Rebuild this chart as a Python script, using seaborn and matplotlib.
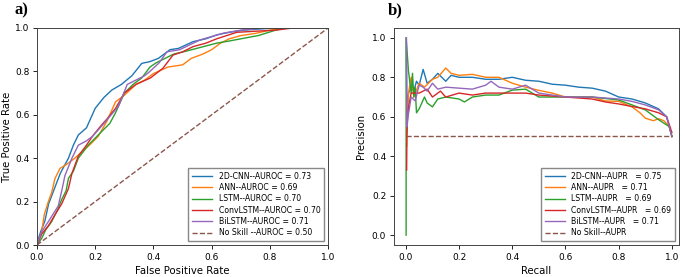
## ROC and precision-recall curves for the five models.
import matplotlib
matplotlib.use("Agg")
import matplotlib.pyplot as plt
import seaborn as sns

# ROC curves.
cnn_fpr = [0, 0.005, 0.015, 0.027, 0.04, 0.06, 0.08, 0.108, 0.125, 0.142, 0.17, 0.2, 0.23, 0.257, 0.29, 0.326, 0.36, 0.388, 0.417, 0.457, 0.486, 0.536, 0.58, 0.617, 0.66, 0.71, 0.76, 0.82, 1.0]
cnn_tpr = [0, 0.03, 0.07, 0.11, 0.19, 0.26, 0.33, 0.40, 0.46, 0.507, 0.54, 0.63, 0.68, 0.714, 0.74, 0.78, 0.837, 0.845, 0.86, 0.90, 0.906, 0.937, 0.95, 0.968, 0.98, 0.99, 0.995, 1.0, 1.0]
ann_fpr = [0, 0.008, 0.016, 0.025, 0.039, 0.05, 0.062, 0.079, 0.1, 0.13, 0.155, 0.18, 0.21, 0.24, 0.27, 0.3, 0.34, 0.37, 0.40, 0.45, 0.5, 0.53, 0.57, 0.6, 0.63, 0.66, 0.7, 0.75, 0.8, 0.85, 1.0]
ann_tpr = [0, 0.03, 0.06, 0.14, 0.20, 0.24, 0.307, 0.353, 0.37, 0.40, 0.43, 0.46, 0.50, 0.57, 0.66, 0.69, 0.74, 0.76, 0.79, 0.82, 0.83, 0.86, 0.88, 0.90, 0.93, 0.95, 0.965, 0.975, 0.99, 1.0, 1.0]
lstm_fpr = [0, 0.016, 0.03, 0.05, 0.07, 0.085, 0.1, 0.108, 0.125, 0.142, 0.176, 0.22, 0.25, 0.27, 0.30, 0.33, 0.36, 0.388, 0.41, 0.44, 0.47, 0.503, 0.56, 0.617, 0.66, 0.70, 0.76, 0.82, 0.85, 1.0]
lstm_tpr = [0, 0.03, 0.07, 0.107, 0.16, 0.21, 0.25, 0.307, 0.34, 0.40, 0.46, 0.52, 0.56, 0.61, 0.70, 0.74, 0.77, 0.82, 0.84, 0.86, 0.88, 0.89, 0.91, 0.93, 0.94, 0.95, 0.965, 0.99, 1.0, 1.0]
conv_fpr = [0, 0.016, 0.04, 0.062, 0.085, 0.108, 0.12, 0.142, 0.17, 0.19, 0.22, 0.24, 0.27, 0.30, 0.34, 0.39, 0.433, 0.467, 0.5, 0.536, 0.58, 0.617, 0.686, 0.75, 0.82, 0.88, 1.0]
conv_tpr = [0, 0.05, 0.09, 0.14, 0.19, 0.26, 0.33, 0.41, 0.46, 0.50, 0.55, 0.58, 0.63, 0.70, 0.74, 0.77, 0.815, 0.875, 0.89, 0.914, 0.93, 0.95, 0.98, 0.985, 0.99, 1.0, 1.0]
bilstm_fpr = [0, 0.016, 0.04, 0.073, 0.085, 0.096, 0.12, 0.142, 0.17, 0.19, 0.23, 0.28, 0.31, 0.37, 0.388, 0.42, 0.446, 0.49, 0.56, 0.64, 0.7, 0.78, 1.0]
bilstm_tpr = [0, 0.06, 0.11, 0.18, 0.25, 0.32, 0.40, 0.46, 0.48, 0.50, 0.56, 0.64, 0.74, 0.78, 0.80, 0.84, 0.89, 0.90, 0.945, 0.976, 0.99, 1.0, 1.0]
skill_fpr = [0, 1]
skill_tpr = [0, 1]

# Precision-recall curves.
cnn_rec = [0.002, 0.004, 0.006, 0.01, 0.02, 0.03, 0.04, 0.05, 0.065, 0.08, 0.1, 0.12, 0.15, 0.17, 0.2, 0.25, 0.3, 0.35, 0.4, 0.45, 0.5, 0.55, 0.6, 0.65, 0.7, 0.75, 0.8, 0.85, 0.9, 0.95, 0.98, 1.0]
cnn_prec = [1.0, 0.55, 0.65, 0.72, 0.75, 0.73, 0.78, 0.76, 0.84, 0.77, 0.79, 0.82, 0.78, 0.81, 0.80, 0.80, 0.79, 0.79, 0.80, 0.785, 0.78, 0.765, 0.76, 0.75, 0.745, 0.73, 0.70, 0.69, 0.67, 0.64, 0.60, 0.50]
ann_rec = [0.003, 0.005, 0.01, 0.02, 0.03, 0.05, 0.07, 0.1, 0.12, 0.15, 0.17, 0.2, 0.25, 0.3, 0.35, 0.4, 0.45, 0.5, 0.55, 0.6, 0.65, 0.7, 0.75, 0.8, 0.85, 0.88, 0.9, 0.93, 0.95, 0.97, 0.99, 1.0]
ann_prec = [0.45, 0.62, 0.72, 0.80, 0.70, 0.77, 0.75, 0.79, 0.80, 0.847, 0.82, 0.81, 0.815, 0.80, 0.80, 0.77, 0.75, 0.734, 0.72, 0.70, 0.70, 0.70, 0.68, 0.678, 0.65, 0.62, 0.593, 0.58, 0.59, 0.58, 0.55, 0.50]
lstm_rec = [0.001, 0.001, 0.01, 0.02, 0.025, 0.03, 0.035, 0.04, 0.05, 0.07, 0.08, 0.1, 0.12, 0.15, 0.2, 0.22, 0.25, 0.3, 0.35, 0.4, 0.45, 0.5, 0.6, 0.7, 0.8, 0.85, 0.9, 0.95, 0.99, 1.0]
lstm_prec = [0.0, 1.0, 0.83, 0.72, 0.82, 0.70, 0.75, 0.62, 0.64, 0.70, 0.67, 0.65, 0.69, 0.70, 0.69, 0.675, 0.70, 0.71, 0.71, 0.735, 0.74, 0.70, 0.70, 0.70, 0.685, 0.66, 0.635, 0.585, 0.55, 0.50]
conv_rec = [0.003, 0.004, 0.006, 0.01, 0.02, 0.05, 0.08, 0.1, 0.13, 0.15, 0.2, 0.25, 0.3, 0.35, 0.4, 0.45, 0.5, 0.6, 0.7, 0.75, 0.8, 0.85, 0.9, 0.95, 0.98, 1.0]
conv_prec = [0.33, 0.50, 0.58, 0.65, 0.72, 0.72, 0.74, 0.70, 0.73, 0.70, 0.72, 0.71, 0.72, 0.72, 0.72, 0.72, 0.71, 0.70, 0.69, 0.675, 0.665, 0.652, 0.64, 0.62, 0.60, 0.52]
bilstm_rec = [0.002, 0.004, 0.008, 0.02, 0.035, 0.05, 0.065, 0.08, 0.1, 0.12, 0.15, 0.2, 0.25, 0.3, 0.32, 0.35, 0.4, 0.45, 0.5, 0.6, 0.7, 0.8, 0.85, 0.9, 0.95, 0.98, 1.0]
bilstm_prec = [1.0, 0.55, 0.60, 0.70, 0.68, 0.76, 0.75, 0.73, 0.77, 0.74, 0.75, 0.745, 0.74, 0.76, 0.78, 0.75, 0.74, 0.76, 0.72, 0.70, 0.70, 0.69, 0.678, 0.66, 0.635, 0.60, 0.50]
skill_rec = [0, 1]
skill_prec = [0.5, 0.5]

roc_labels = ['2D-CNN--AUROC = 0.73', 'ANN--AUROC = 0.69', 'LSTM--AUROC = 0.70',
              'ConvLSTM--AUROC = 0.70', 'BiLSTM--AUROC = 0.71', 'No Skill --AUROC = 0.50']
pr_labels = ['2D-CNN--AUPR   = 0.75', 'ANN--AUPR   = 0.71', 'LSTM--AUPR   = 0.69',
             'ConvLSTM--AUPR   = 0.69', 'BiLSTM--AUPR   = 0.71', 'No Skill--AUPR']
colors = ['tab:blue', 'tab:orange', 'tab:green', 'tab:red', 'tab:purple', 'tab:brown']

roc_curves = [(cnn_fpr, cnn_tpr), (ann_fpr, ann_tpr), (lstm_fpr, lstm_tpr),
              (conv_fpr, conv_tpr), (bilstm_fpr, bilstm_tpr), (skill_fpr, skill_tpr)]
pr_curves = [(cnn_rec, cnn_prec), (ann_rec, ann_prec), (lstm_rec, lstm_prec),
             (conv_rec, conv_prec), (bilstm_rec, bilstm_prec), (skill_rec, skill_prec)]

fig = plt.figure(figsize=(6.85, 2.77), dpi=100)
ax1 = fig.add_axes([0.054, 0.1155, 0.425, 0.7835])
ax2 = fig.add_axes([0.575, 0.1155, 0.416, 0.7835])

for ax, curves, labels in zip([ax1, ax2], [roc_curves, pr_curves], [roc_labels, pr_labels]):
    for (x, y), label, color in zip(curves, labels, colors):
        ls = '--' if label.startswith('No Skill') else '-'
        sns.lineplot(x=x, y=y, label=label, color=color, linestyle=ls, lw=1.0,
                     sort=False, estimator=None, ax=ax)
    ax.tick_params(labelsize=6.5, length=3, width=0.6, pad=2.5)
    for s in ax.spines.values():
        s.set_linewidth(0.7)
        s.set_color('#444444')
    ax.legend(loc='lower right', fontsize=5.6, handlelength=2.6, labelspacing=0.3,
              borderpad=0.5, framealpha=1, edgecolor='#888888', fancybox=False)

ax1.set_xlim(0, 1)
ax1.set_ylim(0, 1)
ax1.set_xticks([0, 0.2, 0.4, 0.6, 0.8, 1.0])
ax1.set_yticks([0, 0.2, 0.4, 0.6, 0.8, 1.0])
ax1.set_xlabel('False Positive Rate', fontsize=7.3, labelpad=3)
ax1.set_ylabel('True Positive Rate', fontsize=7.3, labelpad=2)

ax2.set_xlim(-0.045, 1.026)
ax2.set_ylim(-0.05, 1.05)
ax2.set_xticks([0, 0.2, 0.4, 0.6, 0.8, 1.0])
ax2.set_yticks([0, 0.2, 0.4, 0.6, 0.8, 1.0])
ax2.set_xlabel('Recall', fontsize=7.3, labelpad=3)
ax2.set_ylabel('Precision', fontsize=7.3, labelpad=4)

fig.text(0.021, 0.99, 'a)', fontsize=12, fontweight='bold', family=['Liberation Serif', 'DejaVu Serif'], va='top')
fig.text(0.566, 0.99, 'b)', fontsize=12, fontweight='bold', family=['Liberation Serif', 'DejaVu Serif'], va='top')

plt.savefig('out.png', dpi=100)
